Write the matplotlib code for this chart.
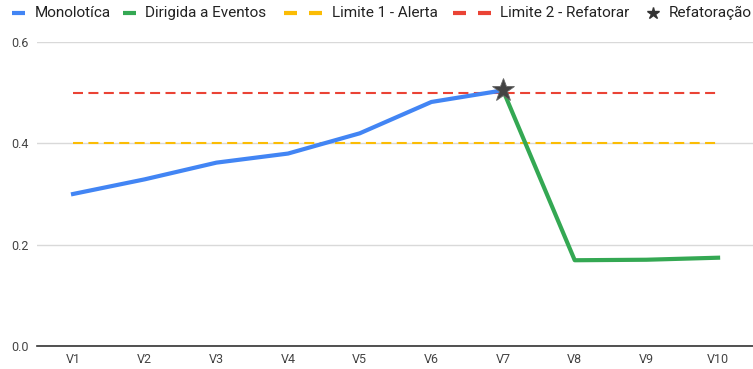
import matplotlib
matplotlib.use("Agg")
import matplotlib.pyplot as plt
from matplotlib.lines import Line2D

plt.rcParams['font.family'] = ['Roboto', 'DejaVu Sans']

# Data
versions = ["V1", "V2", "V3", "V4", "V5", "V6", "V7", "V8", "V9", "V10"]
monolitica = [0.300, 0.329, 0.362, 0.380, 0.420, 0.482, 0.505, None, None, None]
eventos = [None, None, None, None, None, None, 0.505, 0.169, 0.170, 0.174]
limite_alerta = [0.4] * 10
limite_refatorar = [0.5] * 10
refatoracao_idx = 6
refatoracao_val = 0.505
y_ticks = [0.0, 0.2, 0.4, 0.6]

BLUE = "#4285F4"
GREEN = "#34A853"
YELLOW = "#FBBC04"
RED = "#EA4335"
STAR = "#434343"

W, H = 753, 369
fig = plt.figure(figsize=(W / 100, H / 100), dpi=100)
ax = fig.add_axes([37.2 / W, (H - 345.7) / H, 716.7 / W, (345.7 - 42.3) / H])

x = list(range(len(versions)))

def pts(vals):
    xs = [i for i, v in zip(x, vals) if v is not None]
    ys = [v for v in vals if v is not None]
    return xs, ys

ax.plot(x, limite_alerta, color=YELLOW, lw=1.5, dashes=(4.8, 2.6), zorder=2)
ax.plot(x, limite_refatorar, color=RED, lw=1.5, dashes=(4.8, 2.6), zorder=2)
ax.plot(*pts(monolitica), color=BLUE, lw=3, solid_joinstyle="round", zorder=3)
ax.plot(*pts(eventos), color=GREEN, lw=3, solid_joinstyle="round", zorder=3)
ax.plot([refatoracao_idx], [refatoracao_val], marker="*", ms=17, color=STAR,
        markeredgecolor="#666666", markeredgewidth=0.6, zorder=4)

ax.set_xlim(-0.5, len(versions) - 0.5)
ax.set_ylim(0, 0.6)
ax.set_yticks(y_ticks)
ax.set_yticklabels([f"{v:.1f}" for v in y_ticks])
ax.set_xticks(x)
ax.set_xticklabels(versions)
ax.tick_params(axis="both", length=0, labelsize=9, colors="#444444")
ax.tick_params(axis="y", pad=6)
ax.tick_params(axis="x", pad=5)
ax.grid(axis="y", color="#d9d9d9", lw=1)
ax.set_axisbelow(True)
for s in ["top", "right", "left"]:
    ax.spines[s].set_visible(False)
ax.spines["bottom"].set_color("#333333")
ax.spines["bottom"].set_linewidth(1.2)

# Legend drawn along the top edge
ly = 1 - 13 / H

def fx(px):
    return px / W

def add_line(x0, x1, color, lw, dashes=None):
    ln = Line2D([fx(x0), fx(x1)], [ly, ly], transform=fig.transFigure,
                color=color, lw=lw, solid_capstyle="butt")
    if dashes:
        ln.set_dashes(dashes)
    fig.add_artist(ln)

def add_text(px, s):
    fig.text(fx(px), ly, s, ha="left", va="center", fontsize=11, color="#222222")

add_line(12, 25, BLUE, 3)
add_text(35, "Monolotíca")
add_line(123, 136, GREEN, 3)
add_text(145, "Dirigida a Eventos")
add_line(284, 297, YELLOW, 3)
add_line(309, 322, YELLOW, 3)
add_text(332, "Limite 1 - Alerta")
add_line(453, 466, RED, 3)
add_line(478, 491, RED, 3)
add_text(500, "Limite 2 - Refatorar")
fig.add_artist(Line2D([fx(653)], [ly], transform=fig.transFigure, marker="*",
                      ms=9, color="#333333", lw=0))
add_text(669, "Refatoração")

fig.savefig("out.png", dpi=100)
